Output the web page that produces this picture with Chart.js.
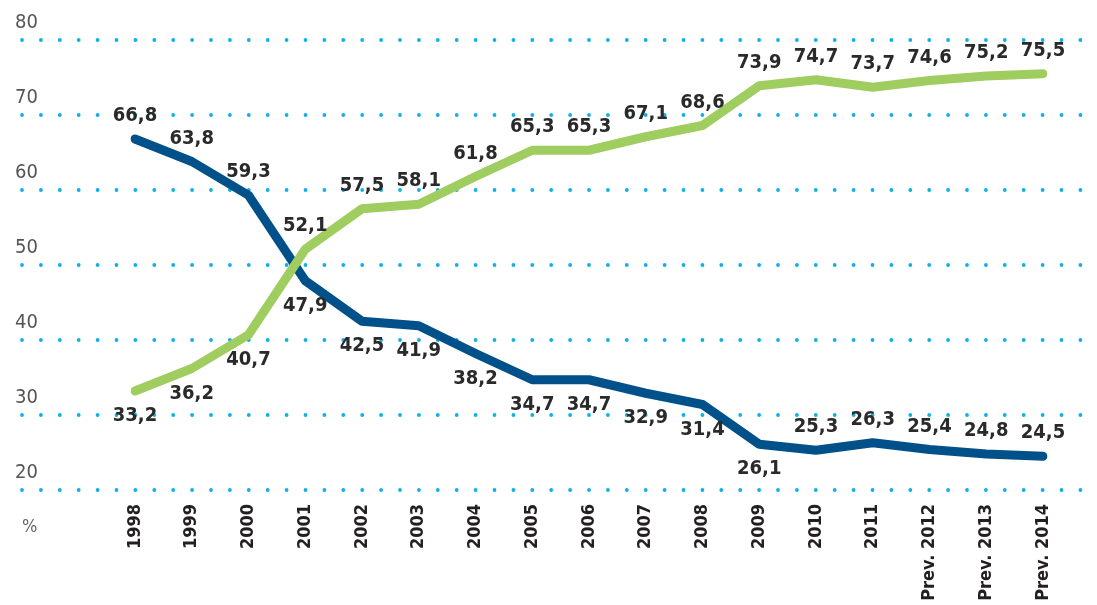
<!DOCTYPE html>
<html>
<head>
<meta charset="utf-8">
<script src="https://cdn.jsdelivr.net/npm/chart.js@4.4.1/dist/chart.umd.min.js"></script>
<style>
    html, body { margin: 0; padding: 0; background: #fff; }
    #wrap { width: 1097px; height: 605px; position: relative; }
</style>
</head>
<body>
<div id="wrap"><canvas id="mainChart"></canvas></div>
<script>
// --- DATA ---
const years = ['1998', '1999', '2000', '2001', '2002', '2003', '2004', '2005', '2006',
    '2007', '2008', '2009', '2010', '2011', 'Prev. 2012', 'Prev. 2013', 'Prev. 2014'];
const greenValues = [33.2, 36.2, 40.7, 52.1, 57.5, 58.1, 61.8, 65.3, 65.3, 67.1, 68.6, 73.9, 74.7, 73.7, 74.6, 75.2, 75.5];
const blueValues = [66.8, 63.8, 59.3, 47.9, 42.5, 41.9, 38.2, 34.7, 34.7, 32.9, 31.4, 26.1, 25.3, 26.3, 25.4, 24.8, 24.5];
const yTicks = [20, 30, 40, 50, 60, 70, 80];
// label above (1) or below (-1) the point
const greenLabelSide = [-1, -1, -1, 1, 1, 1, 1, 1, 1, 1, 1, 1, 1, 1, 1, 1, 1];
const blueLabelSide = [1, 1, 1, -1, -1, -1, -1, -1, -1, -1, -1, -1, 1, 1, 1, 1, 1];

const FONT = '"DejaVu Sans Condensed", "Roboto", sans-serif';
const GREEN = '#9fcd5f';
const BLUE = '#00518a';
const DOT = '#0fb0ea';

// --- PLUGINS ---
const dottedGrid = {
    id: 'dottedGrid',
    beforeDatasetsDraw(chart) {
        const ctx = chart.ctx;
        const y = chart.scales.y;
        ctx.save();
        yTicks.forEach(v => {
            const py = y.getPixelForValue(v);
            ctx.fillStyle = DOT;
            for (let px = 22; px < 1092; px += 18.9) {
                ctx.beginPath();
                ctx.arc(px, py, 1.9, 0, Math.PI * 2);
                ctx.fill();
            }
            ctx.fillStyle = '#555';
            ctx.font = '20px ' + FONT;
            ctx.textAlign = 'left';
            ctx.textBaseline = 'middle';
            ctx.fillText(String(v), 15, py - 17);
        });
        ctx.fillStyle = '#666';
        ctx.font = '18px ' + FONT;
        ctx.fillText('%', 22, 527);
        ctx.restore();
    }
};

const valueLabels = {
    id: 'valueLabels',
    afterDatasetsDraw(chart) {
        const ctx = chart.ctx;
        ctx.save();
        ctx.fillStyle = '#2a2a2a';
        ctx.font = 'bold 20px ' + FONT;
        ctx.textAlign = 'center';
        ctx.textBaseline = 'middle';
        chart.data.datasets.forEach((ds, i) => {
            const meta = chart.getDatasetMeta(i);
            meta.data.forEach((pt, j) => {
                const dy = ds.labelSide[j] > 0 ? -23 : 25;
                ctx.fillText(ds.data[j].toFixed(1).replace('.', ','), pt.x, pt.y + dy);
            });
        });
        ctx.restore();
    }
};

// --- CHART ---
const ctx = document.getElementById('mainChart');
new Chart(ctx, {
    type: 'line',
    data: {
        labels: years,
        datasets: [{
            data: greenValues,
            labelSide: greenLabelSide,
            borderColor: GREEN,
            borderWidth: 9,
            borderCapStyle: 'round',
            borderJoinStyle: 'round',
            pointRadius: 0,
            tension: 0
        }, {
            data: blueValues,
            labelSide: blueLabelSide,
            borderColor: BLUE,
            borderWidth: 9,
            borderCapStyle: 'round',
            borderJoinStyle: 'round',
            pointRadius: 0,
            tension: 0
        }]
    },
    options: {
        responsive: true,
        maintainAspectRatio: false,
        animation: false,
        layout: { padding: { left: 135, right: 54, top: 40, bottom: 0 } },
        plugins: { legend: { display: false }, tooltip: { enabled: false } },
        scales: {
            y: { min: 20, max: 80, display: false },
            x: {
                offset: false,
                grid: { display: false, drawTicks: false },
                border: { display: false },
                afterFit(scale) { scale.height = 115; },
                ticks: {
                    color: '#231f20',
                    font: { family: FONT, size: 18, weight: 'bold' },
                    minRotation: 90,
                    maxRotation: 90,
                    padding: 14,
                    autoSkip: false
                }
            }
        }
    },
    plugins: [dottedGrid, valueLabels]
});
</script>
</body>
</html>
